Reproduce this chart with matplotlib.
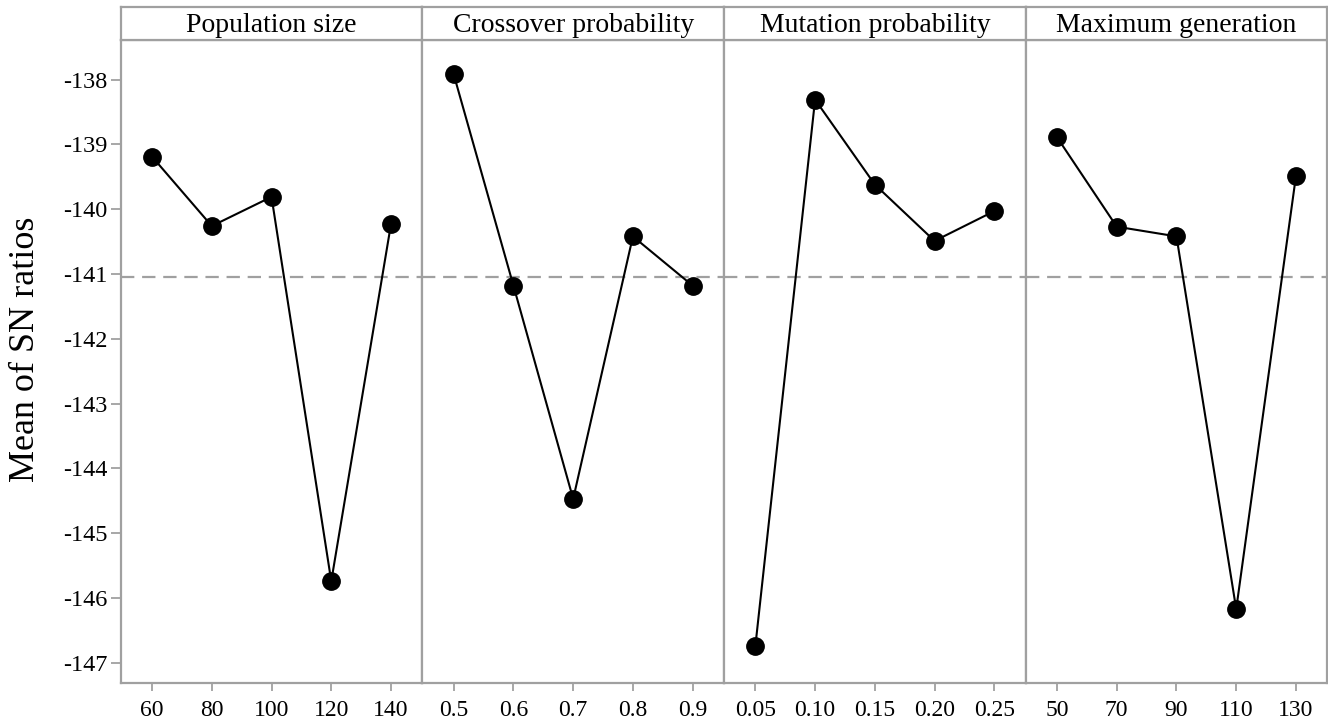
import numpy as np
import matplotlib
matplotlib.use("Agg")
import matplotlib.pyplot as plt

plt.rcParams['font.family'] = ['Liberation Serif', 'DejaVu Serif']

# factor names and levels
factors = ["Population size", "Crossover probability", "Mutation probability", "Maximum generation"]
levels_pop = ["60", "80", "100", "120", "140"]
levels_cross = ["0.5", "0.6", "0.7", "0.8", "0.9"]
levels_mut = ["0.05", "0.10", "0.15", "0.20", "0.25"]
levels_gen = ["50", "70", "90", "110", "130"]

# mean SN ratios
sn_pop = [-139.19, -140.26, -139.81, -145.74, -140.23]
sn_cross = [-137.92, -141.18, -144.47, -140.42, -141.18]
sn_mut = [-146.74, -138.31, -139.62, -140.49, -140.03]
sn_gen = [-138.89, -140.27, -140.42, -146.17, -139.49]

grand_mean = -141.05

levels = [levels_pop, levels_cross, levels_mut, levels_gen]
values = [sn_pop, sn_cross, sn_mut, sn_gen]

W, H = 1328, 724
fig = plt.figure(figsize=(W / 100, H / 100), dpi=100)

gray = "#a0a0a0"
left_px, right_px = 120.7, 1327.3
top_px, bot_px, head_top_px = 40.0, 683.0, 7.3
pw = (right_px - left_px) / 4

for i in range(4):
    x0 = (left_px + i * pw) / W
    ax = fig.add_axes([x0, 1 - bot_px / H, pw / W, (bot_px - top_px) / H])
    hx = fig.add_axes([x0, 1 - top_px / H, pw / W, (top_px - head_top_px) / H])

    xs = np.arange(len(levels[i]))
    ax.axhline(grand_mean, color=gray, lw=1.6, ls=(0, (6, 3.5)), zorder=1)
    ax.plot(xs, values[i], color="black", lw=1.5, marker="o", ms=12.5, zorder=3)

    ax.set_xlim(-0.525, 4.525)
    ax.set_ylim(-147.31, -137.39)
    ax.set_xticks(xs)
    ax.set_xticklabels(levels[i], fontsize=17)
    ax.tick_params(axis="x", direction="out", length=6, width=1.3, color=gray, pad=6)
    if i == 0:
        ax.set_yticks(np.arange(-147, -137, 1))
        ax.set_yticklabels([str(v) for v in range(-147, -137)], fontsize=17.5)
        ax.tick_params(axis="y", direction="out", length=7, width=1.3, color=gray, pad=2.5)
    else:
        ax.set_yticks([])
    for s in ax.spines.values():
        s.set_color(gray)
        s.set_linewidth(1.6)

    hx.set_xticks([])
    hx.set_yticks([])
    for s in hx.spines.values():
        s.set_color(gray)
        s.set_linewidth(1.6)
    hx.text(0.5, 0.45, factors[i], ha="center", va="center", fontsize=20, transform=hx.transAxes)

fig.text(25 / W, 1 - 349 / H, "Mean of SN ratios", rotation=90, ha="center", va="center", fontsize=26)

fig.savefig("out.png", dpi=100)
